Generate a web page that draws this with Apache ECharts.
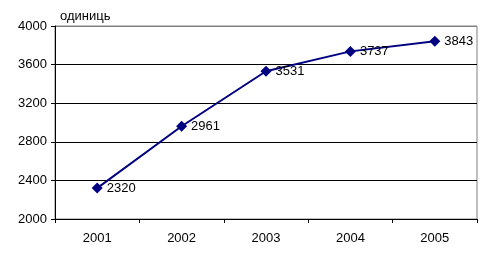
<!DOCTYPE html>
<html><head><meta charset="utf-8">
<script src="https://cdn.jsdelivr.net/npm/echarts@6/dist/echarts.min.js"></script>
<style>html,body{margin:0;padding:0;background:#fff}#c{width:493px;height:266px}</style>
</head><body><div id="c"></div>
<script>
const categories = ['2001','2002','2003','2004','2005'];
const values = [2320, 2961, 3531, 3737, 3843];
const unitLabel = 'одиниць';
const F = 'Liberation Sans, Arial';
const chart = echarts.init(document.getElementById('c'), null, {renderer:'canvas'});
chart.setOption({
  animation:false,
  grid:{left:55, right:16, top:26, bottom:47, show:true, borderColor:'#808080', borderWidth:1},
  title:{text:unitLabel, left:55, top:5, textStyle:{fontFamily:F, fontSize:13, fontWeight:'normal', color:'#000'}},
  xAxis:{type:'category', data:categories, boundaryGap:true,
    axisLine:{lineStyle:{color:'#000', width:1}},
    axisTick:{show:true, length:4, lineStyle:{color:'#000'}},
    axisLabel:{fontFamily:F, fontSize:13, color:'#000', margin:13}},
  yAxis:{type:'value', min:2000, max:4000, interval:400,
    axisLine:{show:true, lineStyle:{color:'#000', width:1}},
    axisTick:{show:true, length:4, lineStyle:{color:'#000'}},
    splitLine:{show:true, lineStyle:{color:['#000','#000','#000','#000','#000','#808080'], width:1}},
    axisLabel:{fontFamily:F, fontSize:13, color:'#000', margin:8, formatter:v=>String(v)}},
  series:[{type:'line', data:values, symbol:'diamond', symbolSize:11,
    lineStyle:{color:'#000080', width:2}, itemStyle:{color:'#000080'},
    label:{show:true, position:'right', distance:4, fontFamily:F, fontSize:13, color:'#000'}}]
});
</script></body></html>
